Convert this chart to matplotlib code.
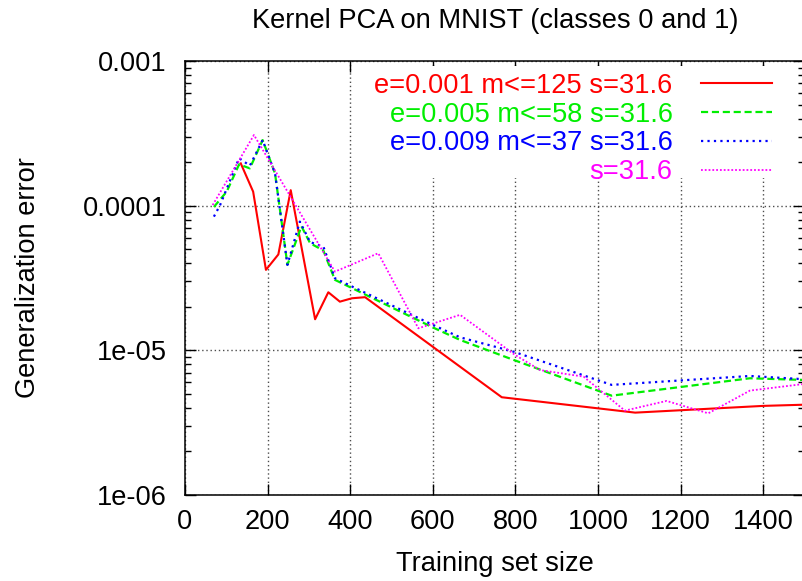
import matplotlib
matplotlib.use("Agg")
import matplotlib.pyplot as plt
from matplotlib.patches import Rectangle
from matplotlib.ticker import FixedLocator, FixedFormatter, LogLocator, NullFormatter

plt.rcParams['font.family'] = ['Liberation Sans', 'DejaVu Sans']

# values
red_x = [135, 165, 196, 226, 256, 315, 347, 375, 404, 436, 767, 1090, 1400, 1500]
red_y = [1.96e-4, 1.25e-4, 3.6e-5, 4.6e-5, 1.28e-4, 1.64e-5, 2.52e-5, 2.17e-5,
         2.29e-5, 2.33e-5, 4.74e-6, 3.71e-6, 4.13e-6, 4.21e-6]

green_x = [70, 101, 131, 157, 188, 218, 248, 282, 303, 335, 363, 400, 600, 666,
           795, 1033, 1368, 1500]
green_y = [9.8e-5, 1.25e-4, 1.93e-4, 1.81e-4, 2.84e-4, 1.67e-4, 3.9e-5, 7.2e-5,
           5.5e-5, 4.9e-5, 3.07e-5, 2.73e-5, 1.44e-5, 1.18e-5, 8.6e-6, 4.86e-6,
           6.41e-6, 6.24e-6]

blue_x = [70, 85, 131, 157, 188, 218, 248, 278, 303, 335, 363, 400, 600, 666,
          795, 1033, 1368, 1500]
blue_y = [8.4e-5, 1.01e-4, 2.13e-4, 1.89e-4, 2.84e-4, 1.67e-4, 3.9e-5, 7.76e-5,
          5.6e-5, 5.21e-5, 3.15e-5, 2.8e-5, 1.5e-5, 1.23e-5, 9.8e-6, 5.77e-6,
          6.65e-6, 6.31e-6]

magenta_x = [67, 167, 363, 468, 565, 666, 799, 860, 965, 1065, 1166, 1267, 1368, 1500]
magenta_y = [1.01e-4, 3.08e-4, 3.5e-5, 4.69e-5, 1.42e-5, 1.76e-5, 9.3e-6, 7.3e-6,
             6.58e-6, 3.83e-6, 4.47e-6, 3.67e-6, 5.27e-6, 5.86e-6]

labels = ["e=0.001 m<=125 s=31.6", "e=0.005 m<=58 s=31.6",
          "e=0.009 m<=37 s=31.6", "s=31.6"]

x_ticks = [0, 200, 400, 600, 800, 1000, 1200, 1400]
y_ticks = [1e-6, 1e-5, 1e-4, 1e-3]
y_tick_labels = ["1e-06", "1e-05", "0.0001", "0.001"]

fs = 19.6

fig = plt.figure(figsize=(8.03, 5.81), dpi=100)
ax = fig.add_axes([185 / 803, 86 / 581, 619.5 / 803, 434 / 581])

ax.plot(red_x, red_y, color='#ff0000', lw=1.5, label=labels[0])
ax.plot(green_x, green_y, color='#00ee00', lw=1.6, dashes=(3.2, 1.7), label=labels[1])
ax.plot(blue_x, blue_y, color='#0000ff', lw=1.6, dashes=(1, 1.9), label=labels[2])
ax.plot(magenta_x, magenta_y, color='#ff00ff', lw=1.3, dashes=(1, 1.1), label=labels[3])

ax.set_yscale('log')
ax.set_xlim(0, 1500)
ax.set_ylim(1e-6, 1e-3)

ax.xaxis.set_major_locator(FixedLocator(x_ticks))
ax.yaxis.set_major_locator(FixedLocator(y_ticks))
ax.yaxis.set_major_formatter(FixedFormatter(y_tick_labels))
ax.yaxis.set_minor_locator(LogLocator(base=10, subs=range(2, 10)))
ax.yaxis.set_minor_formatter(NullFormatter())

ax.tick_params(which='both', direction='in', top=True, right=True, labelsize=fs)
ax.tick_params(which='major', length=8, width=1)
ax.tick_params(which='minor', length=4, width=1)
ax.tick_params(axis='y', which='major', pad=13)
ax.tick_params(axis='x', which='major', pad=10)

for sp in ax.spines.values():
    sp.set_linewidth(1.1)

ax.set_axisbelow(True)
ax.grid(True, which='major', color='0.3', linestyle=(0, (1, 2)), lw=1.0)

# white key area hides the grid, like gnuplot's key
ax.add_patch(Rectangle((0.282, 0.73), 0.706, 0.258, transform=ax.transAxes,
                       facecolor='white', edgecolor='none', zorder=0.8))

leg = ax.legend(loc='upper right', bbox_to_anchor=(0.9475, 0.9725), frameon=False,
                markerfirst=False, handlelength=2.6, handletextpad=1.05,
                labelspacing=0.1, borderaxespad=0, borderpad=0, fontsize=fs,
                labelcolor='linecolor')

ax.set_xlabel("Training set size", fontsize=fs, va='center')
ax.xaxis.set_label_coords(0.5, -0.16)
ax.set_ylabel("Generalization error", fontsize=fs, va='center', ha='center')
ax.yaxis.set_label_coords(-0.2534, 0.5)

fig.text(495 / 803, 1 - 21 / 581, "Kernel PCA on MNIST (classes 0 and 1)",
         fontsize=fs, ha='center', va='center')

fig.savefig('out.png', dpi=100)
